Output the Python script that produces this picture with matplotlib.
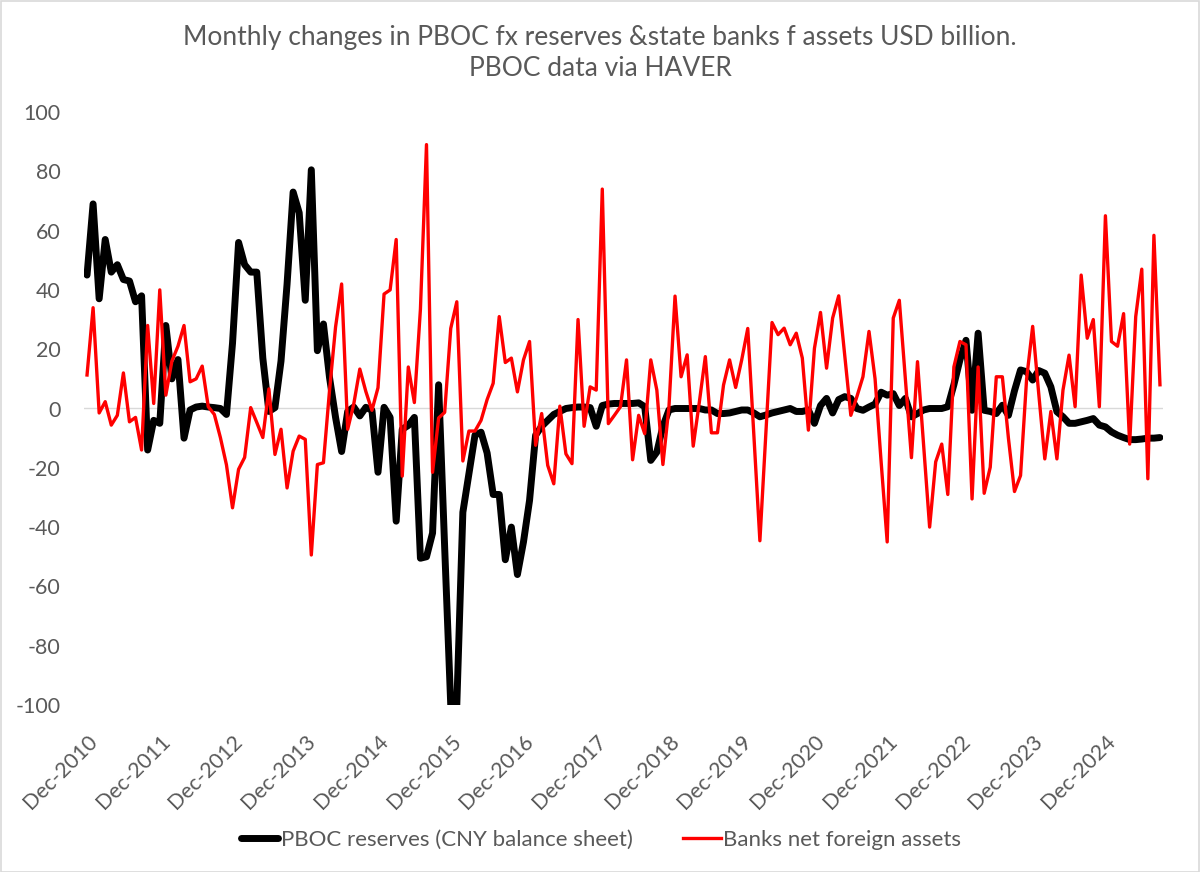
import matplotlib
matplotlib.use("Agg")
import matplotlib.pyplot as plt
from matplotlib.patches import Rectangle

plt.rcParams['font.family'] = ['Lato', 'DejaVu Sans']

# Monthly observations, Dec-2010 .. Sep-2025
start_year = 2010
tick_years = list(range(2010, 2025))
tick_labels = [f"Dec-{y}" for y in tick_years]

pboc_reserves = [
    45, 69, 37, 57, 46, 48.5, 43.5, 43, 36, 38,
    -14, -4, -5, 28, 10, 16.5, -10, -0.5, 0.5, 0.8,
    0.5, 0.3, 0, -2, 22, 56, 48.5, 46, 46, 17,
    -1, 0.3, 16, 42, 73, 66, 36.5, 80.5, 19.5, 28.5,
    10.5, -3, -14.5, -1, 0.5, -2.5, 0.4, -0.6, -21.5, 0.4,
    -3, -38, -7, -5.7, -3, -50.5, -50, -42, 8, -47,
    -100, -100, -35, -22, -9, -8, -15, -29, -29, -51,
    -40, -56, -45, -31, -9, -6, -4, -2, -1, 0,
    0.3, 0.5, 0.5, 0.3, -6, 1, 1.5, 1.7, 1.7, 1.7,
    1.7, 1.9, 0.6, -17.5, -14.7, -6, -0.5, 0, 0, 0,
    0, 0, -0.5, -0.5, -1.7, -1.7, -1.5, -1, -0.5, -0.5,
    -1.5, -2.8, -2.2, -1.5, -1, -0.5, 0, -1, -1, -0.5,
    -5, 1, 3.4, -1.5, 3, 4, 3.4, 0, -0.6, 0.5,
    1.5, 5.5, 4.5, 5, 1, 3.4, -2.8, -1.7, -0.5, 0,
    0, 0, 0.6, 8, 16.4, 23, -0.6, 25.4, -0.6, -1,
    -1.7, 1.1, -2.3, 6, 13, 12.4, 9.6, 12.8, 11.9, 7.3,
    -1.1, -2.8, -5, -5, -4.5, -4, -3.4, -5.6, -6.2, -7.9,
    -9, -9.8, -10.5, -10.5, -10.3, -10, -10, -9.8,
]

banks_nfa = [
    11.3, 34, -1.5, 2.3, -5.6, -2.3, 12, -4.5, -3, -14,
    28, 1.7, 40, 4.5, 16, 21, 28, 9, 10, 14.3,
    0.6, -2, -9.8, -19, -33.5, -20.5, -16.5, 0.3, -4.7, -9.8,
    6.6, -15.5, -7, -26.8, -14.4, -9.3, -10.4, -49.4, -18.9, -18.3,
    6, 27.5, 42, -7, 1.5, 13.3, 5.7, -0.6, 7, 38.6,
    40, 57, -22.8, 14, 2, 33.5, 89, -21.5, -3.2, -1.3,
    27, 36, -17.7, -7.6, -7.6, -4, 3, 8.5, 31, 15.5,
    17, 5.6, 16.4, 22.6, -12.4, -1.7, -19.2, -25.4, 0.8, -15.3,
    -18.6, 30, -6, 7.3, 6.2, 74, -5.1, -2.3, 0.6, 16.4,
    -17.3, -2.3, -8.5, 16.4, 6.2, -18.9, 0.6, 37.9, 10.7, 18.1,
    -12.7, 2, 17.5, -8.2, -8.2, 7.9, 16.4, 7.1, 16.4, 27,
    -9, -44.6, -8, 29, 24.9, 27.1, 21.5, 25.4, 17, -7.3,
    20.3, 32.4, 13.6, 30.5, 38, 18, -2.3, 4, 10.7, 26,
    10, -18, -45, 30.5, 36.5, 10, -16.6, 15.8, -12, -40,
    -18, -12, -29, 14, 22.6, 21.5, -30.5, 14, -28.6, -19.8,
    10.7, 10.7, -10, -28, -22.6, 10, 27.7, 5, -17, -1,
    -17, 6.2, 18, 0.6, 45, 23.7, 30, 0.6, 65, 22.6,
    21, 32, -12, 31, 47, -23.7, 58.4, 8,
]

y_ticks = list(range(-100, 101, 20))

TEXT = '#595959'
n = len(pboc_reserves)
x = list(range(n))

fig = plt.figure(figsize=(12, 8.72), dpi=100)
W, H = 1200, 872
ax = fig.add_axes([84 / W, 1 - 705 / H, (1163 - 84) / W, (705 - 112) / H])

ax.axhline(0, color='#d9d9d9', lw=1.0, zorder=1)
l1, = ax.plot(x, pboc_reserves, color='black', lw=5.0, solid_joinstyle='round',
              solid_capstyle='round', zorder=2, label='PBOC reserves (CNY balance sheet)')
l2, = ax.plot(x, banks_nfa, color='#ff0000', lw=2.4, solid_joinstyle='round',
              zorder=3, label='Banks net foreign assets')

ax.set_xlim(-0.5, n - 0.5)
ax.set_ylim(-100, 100)
ax.set_yticks(y_ticks)
ax.set_yticklabels([str(v) for v in y_ticks])
ax.set_xticks([12 * (y - start_year) for y in tick_years])
ax.set_xticklabels(tick_labels, rotation=45, ha='right', rotation_mode='anchor')
ax.tick_params(axis='both', length=0, labelsize=15.4, labelcolor=TEXT)
ax.tick_params(axis='y', pad=17)
ax.tick_params(axis='x', pad=19)
for s in ax.spines.values():
    s.set_visible(False)

fig.text(0.5, 1 - 37 / H, "Monthly changes in PBOC fx reserves &state banks f assets USD billion.",
         ha='center', va='center', fontsize=19, color=TEXT)
fig.text(0.5, 1 - 69 / H, "PBOC data via HAVER",
         ha='center', va='center', fontsize=19, color=TEXT)

leg = fig.legend(handles=[l1, l2], loc='center', bbox_to_anchor=(601 / W, 1 - 840 / H),
                 ncol=2, frameon=False, fontsize=16, labelcolor=TEXT,
                 handlelength=1.7, handletextpad=0.1, columnspacing=2.3)

fig.add_artist(Rectangle((0.5 / W, 0.5 / H), 1 - 1.5 / W, 1 - 1.5 / H, transform=fig.transFigure,
                         fill=False, edgecolor='#d9d9d9', lw=1.2))

fig.savefig('out.png', dpi=100, facecolor='white')
